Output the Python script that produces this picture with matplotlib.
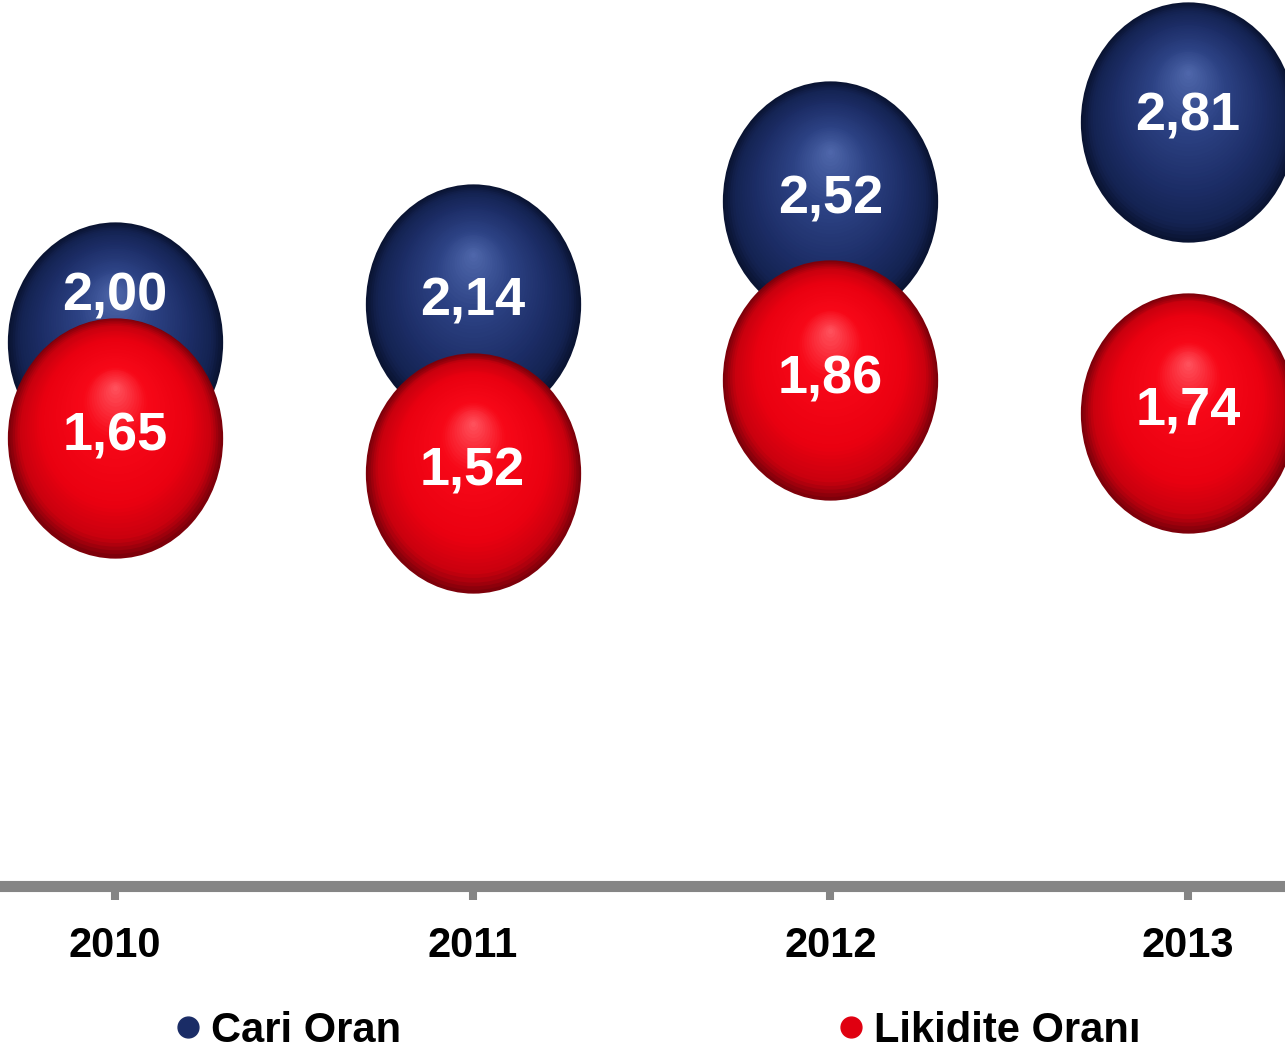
import matplotlib
matplotlib.use('Agg')
import matplotlib.pyplot as plt
import numpy as np
from matplotlib.path import Path
from matplotlib.transforms import Affine2D, ScaledTranslation
from matplotlib.colors import LinearSegmentedColormap
from matplotlib.lines import Line2D

years = ['2010', '2011', '2012', '2013']
cari_oran = [2.00, 2.14, 2.52, 2.81]
likidite_orani = [1.65, 1.52, 1.86, 1.74]
labels_cari = ['2,00', '2,14', '2,52', '2,81']
labels_likidite = ['1,65', '1,52', '1,86', '1,74']

# label shift upward in points (2010 blue label sits in the visible part)
shift_cari = [33, 2, 1, 4]
shift_likidite = [1, 1, 1, 2]

blue_cmap = LinearSegmentedColormap.from_list(
    'sphere_blue', [(0.0, '#5068ac'), (0.35, '#2c4284'), (0.7, '#1c2d66'), (0.9, '#142352'), (1.0, '#0a1433')])
red_cmap = LinearSegmentedColormap.from_list(
    'sphere_red', [(0.0, '#ff5560'), (0.3, '#f70818'), (0.7, '#ea0010'), (0.9, '#c8000e'), (1.0, '#7e000a')])

# slightly tall ellipse as marker
ellipse = Path.unit_circle().transformed(Affine2D().scale(1.0, 1.116))
SIZE = 173.0  # marker height in points


def draw_spheres(ax, fig, xs, ys, cmap, layers=45):
    for k in range(layers):
        f = 1.0 - k / layers
        dy = (1.0 - f) * 0.42 * SIZE / 2
        tr = ax.transData + ScaledTranslation(0, dy / 72, fig.dpi_scale_trans)
        ax.scatter(xs, ys, s=(SIZE * f) ** 2, marker=ellipse, color=cmap(f),
                   linewidths=0, transform=tr, zorder=2)


def main():
    fig = plt.figure(figsize=(12.85, 10.5), dpi=100)
    ax = fig.add_axes([0, 1 - 886 / 1050, 1, 886 / 1050])
    x = np.arange(len(years))

    draw_spheres(ax, fig, x, cari_oran, blue_cmap)
    draw_spheres(ax, fig, x, likidite_orani, red_cmap)

    value_font = ['Liberation Sans Narrow', 'Liberation Sans', 'DejaVu Sans']
    for xi, v, lab, sh in zip(x, cari_oran, labels_cari, shift_cari):
        tr = ax.transData + ScaledTranslation(0, sh / 72, fig.dpi_scale_trans)
        ax.text(xi, v, lab, transform=tr, ha='center', va='center', color='white',
                fontsize=39, fontweight='bold', family=value_font, zorder=5)
    for xi, v, lab, sh in zip(x, likidite_orani, labels_likidite, shift_likidite):
        tr = ax.transData + ScaledTranslation(0, sh / 72, fig.dpi_scale_trans)
        ax.text(xi, v, lab, transform=tr, ha='center', va='center', color='white',
                fontsize=39, fontweight='bold', family=value_font, zorder=5)

    ax.set_xlim(-0.3215, 3.271)
    ax.set_ylim(0, 3.26)
    ax.set_xticks(x)
    ax.set_xticklabels(years, fontsize=30, fontweight='bold', family=['Liberation Sans', 'DejaVu Sans'])
    ax.set_yticks([])
    for side in ['top', 'left', 'right']:
        ax.spines[side].set_visible(False)
    ax.spines['bottom'].set_color('#858585')
    ax.spines['bottom'].set_linewidth(8)
    ax.tick_params(axis='x', direction='out', length=10, width=5.8, color='#858585', pad=19)
    ax.patch.set_visible(False)

    handles = [Line2D([], [], marker='o', linestyle='none', markersize=15, color='#1a2c66'),
               Line2D([], [], marker='o', linestyle='none', markersize=15, color='#e00010')]
    fig.legend(handles, ['Cari Oran', 'Likidite Oranı'], loc='center left',
               bbox_to_anchor=(180 / 1285, 19 / 1050), ncol=2, frameon=False,
               handlelength=0.4, handletextpad=0.35, columnspacing=10.6,
               borderpad=0, borderaxespad=0,
               prop={'family': ['Liberation Sans', 'DejaVu Sans'], 'weight': 'bold', 'size': 30})

    fig.savefig('out.png', dpi=100)
    plt.close()


if __name__ == '__main__':
    main()
